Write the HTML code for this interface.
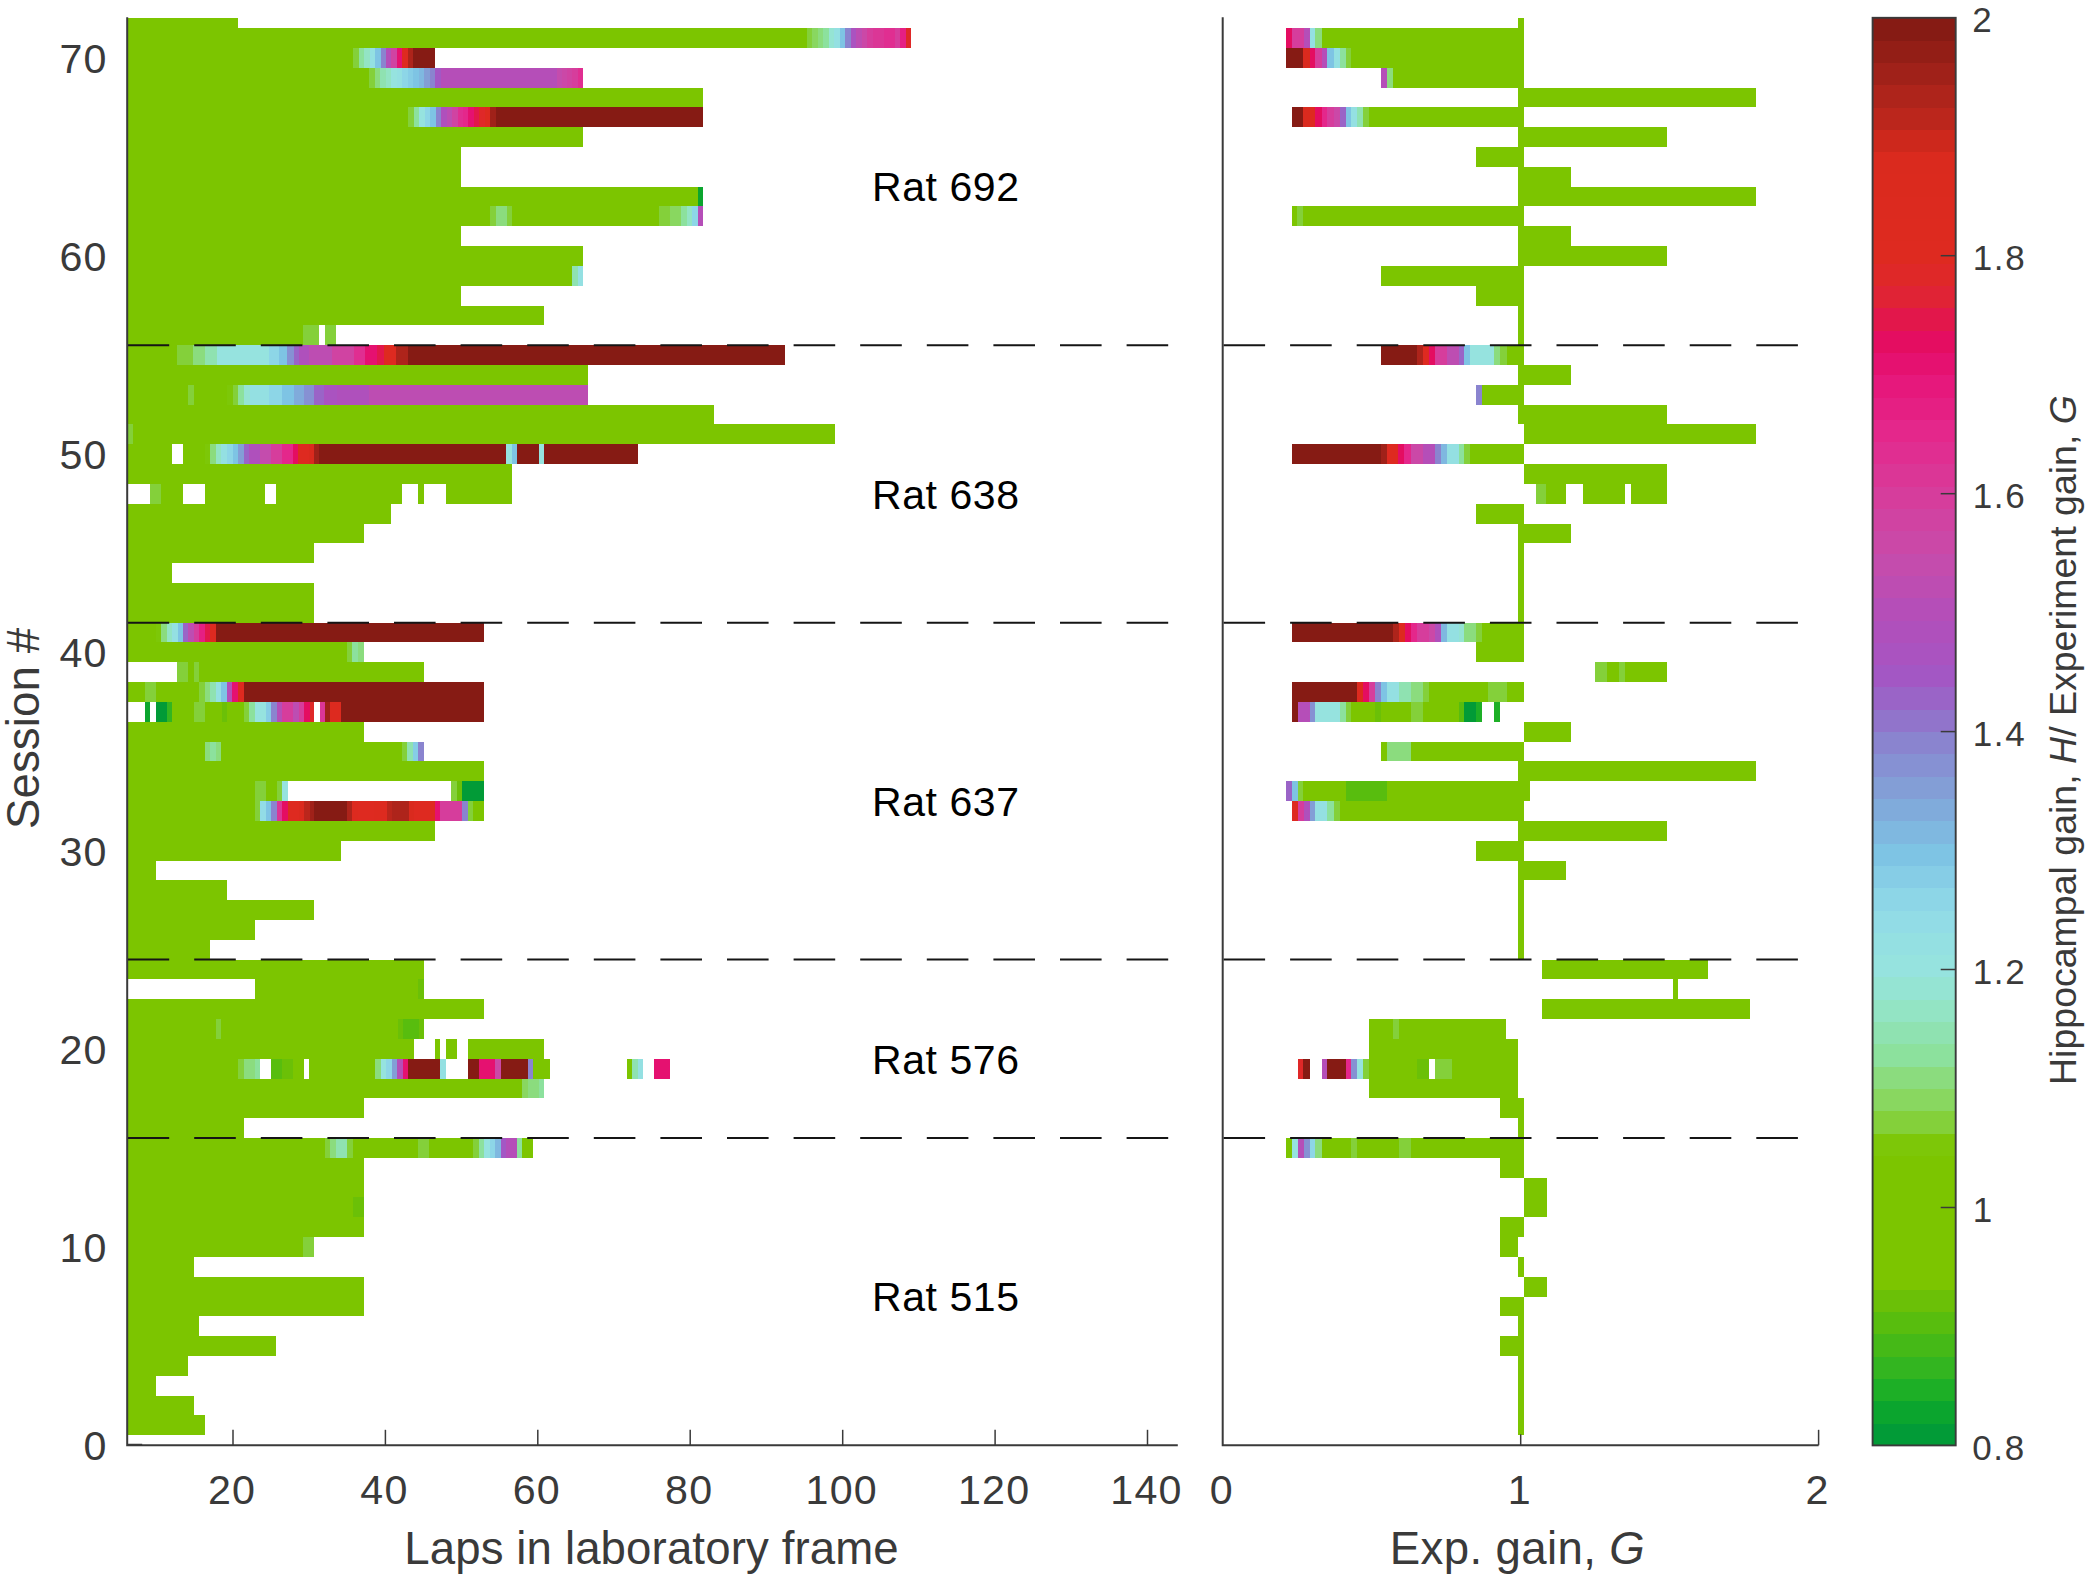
<!DOCTYPE html>
<html lang="en"><head><meta charset="utf-8"><title>Hippocampal gain per session</title>
<style>
html,body{margin:0;padding:0;background:#fff}
body{width:2088px;height:1576px;overflow:hidden}
svg{display:block}
text{font-family:"Liberation Sans",Arial,Helvetica,sans-serif;fill:#3a3a3a}
.tk{font-size:41.2px;letter-spacing:1.2px}
.ck{font-size:35px;letter-spacing:1.6px}
.rat{font-size:41px;fill:#000}
.al{font-size:45.6px}
.cl{font-size:37.5px}
</style></head><body>
<svg width="2088" height="1576" viewBox="0 0 2088 1576">
<rect width="2088" height="1576" fill="#fff"/>
<g shape-rendering="crispEdges">
<rect x="128.20" y="1415.47" width="76.50" height="19.82" fill="#7cc500"/>
<rect x="128.20" y="1395.65" width="65.60" height="19.82" fill="#7cc500"/>
<rect x="128.20" y="1375.83" width="28.00" height="19.82" fill="#7cc500"/>
<rect x="128.20" y="1356.01" width="59.60" height="19.82" fill="#7cc500"/>
<rect x="128.20" y="1336.19" width="148.00" height="19.82" fill="#7cc500"/>
<rect x="128.20" y="1316.37" width="70.80" height="19.82" fill="#7cc500"/>
<rect x="128.20" y="1296.55" width="235.90" height="19.82" fill="#7cc500"/>
<rect x="128.20" y="1276.73" width="235.90" height="19.82" fill="#7cc500"/>
<rect x="128.20" y="1256.91" width="65.80" height="19.82" fill="#7cc500"/>
<rect x="128.20" y="1237.09" width="174.80" height="19.82" fill="#7cc500"/>
<rect x="303.00" y="1237.09" width="5.40" height="19.82" fill="#84d03a"/>
<rect x="308.40" y="1237.09" width="5.40" height="19.82" fill="#84d03a"/>
<rect x="128.20" y="1217.27" width="235.90" height="19.82" fill="#7cc500"/>
<rect x="128.20" y="1197.45" width="224.80" height="19.82" fill="#7cc500"/>
<rect x="353.00" y="1197.45" width="11.10" height="19.82" fill="#6bc007"/>
<rect x="128.20" y="1177.63" width="235.90" height="19.82" fill="#7cc500"/>
<rect x="128.20" y="1157.81" width="235.90" height="19.82" fill="#7cc500"/>
<rect x="128.20" y="1137.99" width="196.53" height="19.82" fill="#7cc500"/>
<rect x="324.73" y="1137.99" width="5.48" height="19.82" fill="#84d03a"/>
<rect x="330.21" y="1137.99" width="5.48" height="19.82" fill="#8bdc7e"/>
<rect x="335.69" y="1137.99" width="10.96" height="19.82" fill="#8fe2b1"/>
<rect x="346.65" y="1137.99" width="6.23" height="19.82" fill="#84d03a"/>
<rect x="352.88" y="1137.99" width="65.26" height="19.82" fill="#7cc500"/>
<rect x="418.13" y="1137.99" width="10.96" height="19.82" fill="#84d03a"/>
<rect x="429.09" y="1137.99" width="44.08" height="19.82" fill="#7cc500"/>
<rect x="473.18" y="1137.99" width="5.48" height="19.82" fill="#84d03a"/>
<rect x="478.66" y="1137.99" width="5.48" height="19.82" fill="#8ce19d"/>
<rect x="484.13" y="1137.99" width="5.48" height="19.82" fill="#96e3df"/>
<rect x="489.61" y="1137.99" width="5.48" height="19.82" fill="#8dd6e7"/>
<rect x="495.09" y="1137.99" width="5.48" height="19.82" fill="#7fb8e0"/>
<rect x="500.57" y="1137.99" width="5.48" height="19.82" fill="#a357c4"/>
<rect x="506.05" y="1137.99" width="10.96" height="19.82" fill="#b54eb8"/>
<rect x="517.01" y="1137.99" width="5.48" height="19.82" fill="#8ce19d"/>
<rect x="522.49" y="1137.99" width="10.96" height="19.82" fill="#7cc500"/>
<rect x="128.20" y="1118.17" width="115.60" height="19.82" fill="#7cc500"/>
<rect x="128.20" y="1098.35" width="235.90" height="19.82" fill="#7cc500"/>
<rect x="128.20" y="1078.53" width="394.29" height="19.82" fill="#7cc500"/>
<rect x="522.49" y="1078.53" width="5.48" height="19.82" fill="#89d760"/>
<rect x="527.97" y="1078.53" width="5.48" height="19.82" fill="#8bdc7e"/>
<rect x="533.45" y="1078.53" width="5.48" height="19.82" fill="#8bdc7e"/>
<rect x="538.93" y="1078.53" width="5.23" height="19.82" fill="#8ce19d"/>
<rect x="128.20" y="1058.71" width="109.86" height="19.82" fill="#7cc500"/>
<rect x="238.06" y="1058.71" width="5.48" height="19.82" fill="#84d03a"/>
<rect x="243.54" y="1058.71" width="10.96" height="19.82" fill="#8bdc7e"/>
<rect x="254.50" y="1058.71" width="5.48" height="19.82" fill="#8ce19d"/>
<rect x="270.93" y="1058.71" width="10.96" height="19.82" fill="#58bd0e"/>
<rect x="281.89" y="1058.71" width="10.96" height="19.82" fill="#6bc007"/>
<rect x="292.85" y="1058.71" width="10.96" height="19.82" fill="#7cc500"/>
<rect x="308.79" y="1058.71" width="66.50" height="19.82" fill="#7cc500"/>
<rect x="375.29" y="1058.71" width="5.48" height="19.82" fill="#8bdc7e"/>
<rect x="380.77" y="1058.71" width="5.48" height="19.82" fill="#96e3df"/>
<rect x="386.25" y="1058.71" width="5.48" height="19.82" fill="#8dd6e7"/>
<rect x="391.73" y="1058.71" width="5.48" height="19.82" fill="#839ed6"/>
<rect x="397.21" y="1058.71" width="5.48" height="19.82" fill="#b54eb8"/>
<rect x="402.69" y="1058.71" width="5.48" height="19.82" fill="#e51170"/>
<rect x="408.17" y="1058.71" width="31.88" height="19.82" fill="#861b14"/>
<rect x="440.05" y="1058.71" width="5.73" height="19.82" fill="#94e0e2"/>
<rect x="467.95" y="1058.71" width="10.71" height="19.82" fill="#861b14"/>
<rect x="478.66" y="1058.71" width="16.44" height="19.82" fill="#e51170"/>
<rect x="495.09" y="1058.71" width="5.48" height="19.82" fill="#cb48a7"/>
<rect x="500.57" y="1058.71" width="27.40" height="19.82" fill="#861b14"/>
<rect x="527.97" y="1058.71" width="5.48" height="19.82" fill="#8a84cf"/>
<rect x="533.45" y="1058.71" width="16.19" height="19.82" fill="#7cc500"/>
<rect x="627.10" y="1058.71" width="4.98" height="19.82" fill="#7cc500"/>
<rect x="632.08" y="1058.71" width="5.48" height="19.82" fill="#8fe2b1"/>
<rect x="637.56" y="1058.71" width="5.48" height="19.82" fill="#94e0e2"/>
<rect x="654.00" y="1058.71" width="15.94" height="19.82" fill="#e51170"/>
<rect x="128.20" y="1038.89" width="285.70" height="19.82" fill="#7cc500"/>
<rect x="435.07" y="1038.89" width="4.98" height="19.82" fill="#7cc500"/>
<rect x="446.28" y="1038.89" width="10.46" height="19.82" fill="#7cc500"/>
<rect x="467.95" y="1038.89" width="76.21" height="19.82" fill="#7cc500"/>
<rect x="128.20" y="1019.07" width="87.94" height="19.82" fill="#7cc500"/>
<rect x="216.14" y="1019.07" width="4.98" height="19.82" fill="#84d03a"/>
<rect x="221.12" y="1019.07" width="176.59" height="19.82" fill="#7cc500"/>
<rect x="397.71" y="1019.07" width="5.48" height="19.82" fill="#6bc007"/>
<rect x="403.19" y="1019.07" width="15.69" height="19.82" fill="#58bd0e"/>
<rect x="418.88" y="1019.07" width="4.98" height="19.82" fill="#6bc007"/>
<rect x="128.20" y="999.25" width="355.90" height="19.82" fill="#7cc500"/>
<rect x="254.70" y="979.43" width="163.70" height="19.82" fill="#7cc500"/>
<rect x="418.40" y="979.43" width="5.50" height="19.82" fill="#6bc007"/>
<rect x="128.20" y="959.61" width="295.70" height="19.82" fill="#7cc500"/>
<rect x="128.20" y="939.79" width="81.50" height="19.82" fill="#7cc500"/>
<rect x="128.20" y="919.97" width="126.50" height="19.82" fill="#7cc500"/>
<rect x="128.20" y="900.15" width="185.60" height="19.82" fill="#7cc500"/>
<rect x="128.20" y="880.33" width="98.90" height="19.82" fill="#7cc500"/>
<rect x="128.20" y="860.51" width="27.40" height="19.82" fill="#7cc500"/>
<rect x="128.20" y="840.69" width="213.20" height="19.82" fill="#7cc500"/>
<rect x="128.20" y="820.87" width="306.60" height="19.82" fill="#7cc500"/>
<rect x="128.20" y="801.05" width="126.54" height="19.82" fill="#7cc500"/>
<rect x="254.74" y="801.05" width="5.48" height="19.82" fill="#84d03a"/>
<rect x="260.22" y="801.05" width="5.48" height="19.82" fill="#92dce6"/>
<rect x="265.70" y="801.05" width="5.48" height="19.82" fill="#7ec4e4"/>
<rect x="271.18" y="801.05" width="5.48" height="19.82" fill="#8a84cf"/>
<rect x="276.66" y="801.05" width="5.48" height="19.82" fill="#db3696"/>
<rect x="282.14" y="801.05" width="5.48" height="19.82" fill="#e40d61"/>
<rect x="287.62" y="801.05" width="10.96" height="19.82" fill="#de2a20"/>
<rect x="298.58" y="801.05" width="5.48" height="19.82" fill="#db2a1e"/>
<rect x="304.06" y="801.05" width="5.48" height="19.82" fill="#bb261c"/>
<rect x="309.54" y="801.05" width="4.48" height="19.82" fill="#a02119"/>
<rect x="314.02" y="801.05" width="32.88" height="19.82" fill="#861b14"/>
<rect x="346.90" y="801.05" width="5.48" height="19.82" fill="#ae241b"/>
<rect x="352.38" y="801.05" width="5.48" height="19.82" fill="#dd2a1f"/>
<rect x="357.86" y="801.05" width="16.19" height="19.82" fill="#de2a20"/>
<rect x="374.05" y="801.05" width="12.45" height="19.82" fill="#dd2a1f"/>
<rect x="386.50" y="801.05" width="5.48" height="19.82" fill="#bb261c"/>
<rect x="391.98" y="801.05" width="16.94" height="19.82" fill="#ae241b"/>
<rect x="408.92" y="801.05" width="4.98" height="19.82" fill="#da2a1e"/>
<rect x="413.90" y="801.05" width="20.92" height="19.82" fill="#de2a20"/>
<rect x="434.82" y="801.05" width="5.48" height="19.82" fill="#e51170"/>
<rect x="440.30" y="801.05" width="21.92" height="19.82" fill="#d63d9c"/>
<rect x="462.22" y="801.05" width="5.48" height="19.82" fill="#8a84cf"/>
<rect x="467.70" y="801.05" width="5.48" height="19.82" fill="#84d03a"/>
<rect x="473.18" y="801.05" width="10.96" height="19.82" fill="#7cc500"/>
<rect x="128.20" y="781.23" width="126.54" height="19.82" fill="#7cc500"/>
<rect x="254.74" y="781.23" width="5.48" height="19.82" fill="#84d03a"/>
<rect x="260.22" y="781.23" width="5.48" height="19.82" fill="#84d03a"/>
<rect x="265.70" y="781.23" width="10.96" height="19.82" fill="#7cc500"/>
<rect x="276.66" y="781.23" width="5.48" height="19.82" fill="#84d03a"/>
<rect x="282.14" y="781.23" width="5.48" height="19.82" fill="#96e3df"/>
<rect x="451.26" y="781.23" width="5.48" height="19.82" fill="#84d03a"/>
<rect x="456.74" y="781.23" width="5.48" height="19.82" fill="#6bc007"/>
<rect x="462.22" y="781.23" width="21.92" height="19.82" fill="#029b37"/>
<rect x="128.20" y="761.41" width="355.90" height="19.82" fill="#7cc500"/>
<rect x="128.20" y="741.59" width="76.73" height="19.82" fill="#7cc500"/>
<rect x="204.93" y="741.59" width="5.48" height="19.82" fill="#8bdc7e"/>
<rect x="210.41" y="741.59" width="5.48" height="19.82" fill="#8ce19d"/>
<rect x="215.89" y="741.59" width="5.48" height="19.82" fill="#8bdc7e"/>
<rect x="221.37" y="741.59" width="180.57" height="19.82" fill="#7cc500"/>
<rect x="401.94" y="741.59" width="5.48" height="19.82" fill="#84d03a"/>
<rect x="407.42" y="741.59" width="5.48" height="19.82" fill="#8fe2b1"/>
<rect x="412.90" y="741.59" width="5.48" height="19.82" fill="#86cde6"/>
<rect x="418.38" y="741.59" width="5.48" height="19.82" fill="#8a84cf"/>
<rect x="128.20" y="721.77" width="235.90" height="19.82" fill="#7cc500"/>
<rect x="144.91" y="701.95" width="4.98" height="19.82" fill="#0ba52e"/>
<rect x="155.62" y="701.95" width="10.96" height="19.82" fill="#029b37"/>
<rect x="166.58" y="701.95" width="5.48" height="19.82" fill="#33b520"/>
<rect x="172.05" y="701.95" width="21.92" height="19.82" fill="#7cc500"/>
<rect x="193.97" y="701.95" width="10.96" height="19.82" fill="#84d03a"/>
<rect x="204.93" y="701.95" width="16.69" height="19.82" fill="#7cc500"/>
<rect x="221.62" y="701.95" width="5.48" height="19.82" fill="#6bc007"/>
<rect x="227.10" y="701.95" width="16.69" height="19.82" fill="#7cc500"/>
<rect x="243.79" y="701.95" width="5.48" height="19.82" fill="#84d03a"/>
<rect x="249.27" y="701.95" width="5.48" height="19.82" fill="#8ce19d"/>
<rect x="254.74" y="701.95" width="10.96" height="19.82" fill="#96e3df"/>
<rect x="265.70" y="701.95" width="5.48" height="19.82" fill="#86cde6"/>
<rect x="271.18" y="701.95" width="5.48" height="19.82" fill="#8a84cf"/>
<rect x="276.66" y="701.95" width="5.48" height="19.82" fill="#b54eb8"/>
<rect x="282.14" y="701.95" width="10.96" height="19.82" fill="#d63d9c"/>
<rect x="293.10" y="701.95" width="5.48" height="19.82" fill="#bd4db2"/>
<rect x="298.58" y="701.95" width="5.48" height="19.82" fill="#d63d9c"/>
<rect x="304.06" y="701.95" width="5.48" height="19.82" fill="#e40d61"/>
<rect x="309.54" y="701.95" width="4.48" height="19.82" fill="#df2828"/>
<rect x="319.50" y="701.95" width="5.48" height="19.82" fill="#db3696"/>
<rect x="324.98" y="701.95" width="5.48" height="19.82" fill="#a02119"/>
<rect x="330.46" y="701.95" width="10.96" height="19.82" fill="#dd2a1f"/>
<rect x="341.42" y="701.95" width="142.71" height="19.82" fill="#861b14"/>
<rect x="128.20" y="682.13" width="16.71" height="19.82" fill="#7cc500"/>
<rect x="144.91" y="682.13" width="10.71" height="19.82" fill="#84d03a"/>
<rect x="155.62" y="682.13" width="43.84" height="19.82" fill="#7cc500"/>
<rect x="199.45" y="682.13" width="5.48" height="19.82" fill="#84d03a"/>
<rect x="204.93" y="682.13" width="5.48" height="19.82" fill="#8bdc7e"/>
<rect x="210.41" y="682.13" width="5.48" height="19.82" fill="#8fe2b1"/>
<rect x="215.89" y="682.13" width="5.48" height="19.82" fill="#94e0e2"/>
<rect x="221.37" y="682.13" width="5.48" height="19.82" fill="#7ec4e4"/>
<rect x="226.85" y="682.13" width="5.48" height="19.82" fill="#b54eb8"/>
<rect x="232.33" y="682.13" width="5.48" height="19.82" fill="#e51170"/>
<rect x="237.81" y="682.13" width="5.98" height="19.82" fill="#de2a20"/>
<rect x="243.79" y="682.13" width="240.35" height="19.82" fill="#861b14"/>
<rect x="177.29" y="662.31" width="5.48" height="19.82" fill="#84d03a"/>
<rect x="182.76" y="662.31" width="5.48" height="19.82" fill="#84d03a"/>
<rect x="188.24" y="662.31" width="5.48" height="19.82" fill="#7cc500"/>
<rect x="193.72" y="662.31" width="5.48" height="19.82" fill="#84d03a"/>
<rect x="199.20" y="662.31" width="224.66" height="19.82" fill="#7cc500"/>
<rect x="128.20" y="642.49" width="218.45" height="19.82" fill="#7cc500"/>
<rect x="346.65" y="642.49" width="5.48" height="19.82" fill="#84d03a"/>
<rect x="352.13" y="642.49" width="5.98" height="19.82" fill="#8ce19d"/>
<rect x="358.11" y="642.49" width="5.98" height="19.82" fill="#8bdc7e"/>
<rect x="128.20" y="622.67" width="27.42" height="19.82" fill="#7cc500"/>
<rect x="155.62" y="622.67" width="5.48" height="19.82" fill="#7dc708"/>
<rect x="161.10" y="622.67" width="5.48" height="19.82" fill="#8bdc7e"/>
<rect x="166.58" y="622.67" width="5.48" height="19.82" fill="#93e4c4"/>
<rect x="172.05" y="622.67" width="5.48" height="19.82" fill="#94e0e2"/>
<rect x="177.53" y="622.67" width="5.48" height="19.82" fill="#7ec4e4"/>
<rect x="183.01" y="622.67" width="5.48" height="19.82" fill="#9a64c7"/>
<rect x="188.49" y="622.67" width="5.48" height="19.82" fill="#bd4db2"/>
<rect x="193.97" y="622.67" width="5.48" height="19.82" fill="#d63d9c"/>
<rect x="199.45" y="622.67" width="5.48" height="19.82" fill="#e51f83"/>
<rect x="204.93" y="622.67" width="5.48" height="19.82" fill="#e2174b"/>
<rect x="210.41" y="622.67" width="5.48" height="19.82" fill="#de2a20"/>
<rect x="215.89" y="622.67" width="268.24" height="19.82" fill="#861b14"/>
<rect x="128.20" y="602.85" width="185.60" height="19.82" fill="#7cc500"/>
<rect x="128.20" y="583.03" width="185.60" height="19.82" fill="#7cc500"/>
<rect x="128.20" y="563.21" width="43.60" height="19.82" fill="#7cc500"/>
<rect x="128.20" y="543.39" width="185.60" height="19.82" fill="#7cc500"/>
<rect x="128.20" y="523.57" width="235.90" height="19.82" fill="#7cc500"/>
<rect x="128.20" y="503.75" width="262.80" height="19.82" fill="#7cc500"/>
<rect x="149.89" y="483.93" width="11.21" height="19.82" fill="#84d03a"/>
<rect x="161.10" y="483.93" width="21.92" height="19.82" fill="#7cc500"/>
<rect x="204.68" y="483.93" width="60.52" height="19.82" fill="#7cc500"/>
<rect x="276.16" y="483.93" width="125.78" height="19.82" fill="#7cc500"/>
<rect x="418.13" y="483.93" width="5.73" height="19.82" fill="#7cc500"/>
<rect x="446.28" y="483.93" width="65.50" height="19.82" fill="#7cc500"/>
<rect x="128.20" y="464.11" width="383.60" height="19.82" fill="#7cc500"/>
<rect x="128.20" y="444.29" width="43.61" height="19.82" fill="#7cc500"/>
<rect x="183.01" y="444.29" width="21.67" height="19.82" fill="#7cc500"/>
<rect x="204.68" y="444.29" width="5.48" height="19.82" fill="#7dc708"/>
<rect x="210.16" y="444.29" width="5.48" height="19.82" fill="#8bdc7e"/>
<rect x="215.64" y="444.29" width="5.48" height="19.82" fill="#93e4c4"/>
<rect x="221.12" y="444.29" width="5.98" height="19.82" fill="#94e0e2"/>
<rect x="227.10" y="444.29" width="5.48" height="19.82" fill="#8dd6e7"/>
<rect x="232.58" y="444.29" width="5.48" height="19.82" fill="#7ec4e4"/>
<rect x="238.06" y="444.29" width="5.48" height="19.82" fill="#839ed6"/>
<rect x="243.54" y="444.29" width="5.48" height="19.82" fill="#9a64c7"/>
<rect x="249.02" y="444.29" width="10.96" height="19.82" fill="#af50bc"/>
<rect x="259.98" y="444.29" width="10.96" height="19.82" fill="#c44cad"/>
<rect x="270.93" y="444.29" width="10.96" height="19.82" fill="#d63d9c"/>
<rect x="281.89" y="444.29" width="10.96" height="19.82" fill="#e4278b"/>
<rect x="292.85" y="444.29" width="5.48" height="19.82" fill="#e40d61"/>
<rect x="298.33" y="444.29" width="10.96" height="19.82" fill="#de2a20"/>
<rect x="309.29" y="444.29" width="4.98" height="19.82" fill="#da2a1e"/>
<rect x="314.27" y="444.29" width="4.98" height="19.82" fill="#a02119"/>
<rect x="319.25" y="444.29" width="186.80" height="19.82" fill="#861b14"/>
<rect x="506.05" y="444.29" width="6.23" height="19.82" fill="#96e3df"/>
<rect x="512.28" y="444.29" width="4.98" height="19.82" fill="#7ec4e4"/>
<rect x="517.26" y="444.29" width="21.67" height="19.82" fill="#861b14"/>
<rect x="538.93" y="444.29" width="5.23" height="19.82" fill="#96e3df"/>
<rect x="544.16" y="444.29" width="93.90" height="19.82" fill="#861b14"/>
<rect x="128.20" y="424.47" width="4.30" height="19.82" fill="#84d03a"/>
<rect x="132.50" y="424.47" width="702.20" height="19.82" fill="#7cc500"/>
<rect x="128.20" y="404.65" width="585.70" height="19.82" fill="#7cc500"/>
<rect x="128.20" y="384.83" width="60.29" height="19.82" fill="#7cc500"/>
<rect x="188.49" y="384.83" width="5.48" height="19.82" fill="#84d03a"/>
<rect x="193.97" y="384.83" width="33.13" height="19.82" fill="#7cc500"/>
<rect x="227.10" y="384.83" width="5.48" height="19.82" fill="#7dc708"/>
<rect x="232.58" y="384.83" width="5.48" height="19.82" fill="#84d03a"/>
<rect x="238.06" y="384.83" width="5.48" height="19.82" fill="#8ce19d"/>
<rect x="243.54" y="384.83" width="5.98" height="19.82" fill="#95e4d3"/>
<rect x="249.51" y="384.83" width="19.93" height="19.82" fill="#94e0e2"/>
<rect x="269.44" y="384.83" width="12.45" height="19.82" fill="#8dd6e7"/>
<rect x="281.89" y="384.83" width="12.45" height="19.82" fill="#7ec4e4"/>
<rect x="294.35" y="384.83" width="9.96" height="19.82" fill="#80abdb"/>
<rect x="304.31" y="384.83" width="9.96" height="19.82" fill="#8691d3"/>
<rect x="314.27" y="384.83" width="9.96" height="19.82" fill="#9a64c7"/>
<rect x="324.23" y="384.83" width="12.45" height="19.82" fill="#aa53c0"/>
<rect x="336.69" y="384.83" width="32.38" height="19.82" fill="#af50bc"/>
<rect x="369.07" y="384.83" width="218.68" height="19.82" fill="#bd4db2"/>
<rect x="128.20" y="365.01" width="459.50" height="19.82" fill="#7cc500"/>
<rect x="128.20" y="345.19" width="48.59" height="19.82" fill="#7cc500"/>
<rect x="176.79" y="345.19" width="16.69" height="19.82" fill="#84d03a"/>
<rect x="193.47" y="345.19" width="11.21" height="19.82" fill="#8bdc7e"/>
<rect x="204.68" y="345.19" width="12.45" height="19.82" fill="#8fe2b1"/>
<rect x="217.14" y="345.19" width="52.30" height="19.82" fill="#96e3df"/>
<rect x="269.44" y="345.19" width="9.96" height="19.82" fill="#8dd6e7"/>
<rect x="279.40" y="345.19" width="7.47" height="19.82" fill="#7ec4e4"/>
<rect x="286.87" y="345.19" width="7.47" height="19.82" fill="#8691d3"/>
<rect x="294.35" y="345.19" width="4.98" height="19.82" fill="#9a64c7"/>
<rect x="299.33" y="345.19" width="9.96" height="19.82" fill="#af50bc"/>
<rect x="309.29" y="345.19" width="22.42" height="19.82" fill="#bd4db2"/>
<rect x="331.71" y="345.19" width="22.42" height="19.82" fill="#d043a2"/>
<rect x="354.12" y="345.19" width="11.21" height="19.82" fill="#e02e91"/>
<rect x="365.33" y="345.19" width="11.21" height="19.82" fill="#e51170"/>
<rect x="376.54" y="345.19" width="7.47" height="19.82" fill="#e2174b"/>
<rect x="384.01" y="345.19" width="12.45" height="19.82" fill="#de2a20"/>
<rect x="396.46" y="345.19" width="11.21" height="19.82" fill="#ae241b"/>
<rect x="407.67" y="345.19" width="377.23" height="19.82" fill="#861b14"/>
<rect x="128.20" y="325.37" width="174.80" height="19.82" fill="#7cc500"/>
<rect x="303.00" y="325.37" width="16.20" height="19.82" fill="#84d03a"/>
<rect x="324.70" y="325.37" width="11.00" height="19.82" fill="#84d03a"/>
<rect x="128.20" y="305.55" width="415.70" height="19.82" fill="#7cc500"/>
<rect x="128.20" y="285.73" width="333.20" height="19.82" fill="#7cc500"/>
<rect x="128.20" y="265.91" width="443.80" height="19.82" fill="#7cc500"/>
<rect x="572.00" y="265.91" width="5.50" height="19.82" fill="#8fe2b1"/>
<rect x="577.50" y="265.91" width="5.50" height="19.82" fill="#94e0e2"/>
<rect x="128.20" y="246.09" width="454.70" height="19.82" fill="#7cc500"/>
<rect x="128.20" y="226.27" width="333.20" height="19.82" fill="#7cc500"/>
<rect x="128.20" y="206.45" width="362.10" height="19.82" fill="#7cc500"/>
<rect x="490.30" y="206.45" width="5.48" height="19.82" fill="#84d03a"/>
<rect x="495.78" y="206.45" width="5.48" height="19.82" fill="#8bdc7e"/>
<rect x="501.26" y="206.45" width="5.48" height="19.82" fill="#8bdc7e"/>
<rect x="506.74" y="206.45" width="5.48" height="19.82" fill="#84d03a"/>
<rect x="512.22" y="206.45" width="147.08" height="19.82" fill="#7cc500"/>
<rect x="659.30" y="206.45" width="5.46" height="19.82" fill="#84d03a"/>
<rect x="664.76" y="206.45" width="5.46" height="19.82" fill="#84d03a"/>
<rect x="670.22" y="206.45" width="5.46" height="19.82" fill="#89d760"/>
<rect x="675.68" y="206.45" width="5.46" height="19.82" fill="#89d760"/>
<rect x="681.14" y="206.45" width="5.46" height="19.82" fill="#8ce19d"/>
<rect x="686.60" y="206.45" width="5.46" height="19.82" fill="#93e4c4"/>
<rect x="692.06" y="206.45" width="5.46" height="19.82" fill="#8dd6e7"/>
<rect x="697.52" y="206.45" width="5.46" height="19.82" fill="#b54eb8"/>
<rect x="128.20" y="186.63" width="569.40" height="19.82" fill="#7cc500"/>
<rect x="697.60" y="186.63" width="5.40" height="19.82" fill="#0ba52e"/>
<rect x="128.20" y="166.81" width="333.20" height="19.82" fill="#7cc500"/>
<rect x="128.20" y="146.99" width="333.20" height="19.82" fill="#7cc500"/>
<rect x="128.20" y="127.17" width="454.70" height="19.82" fill="#7cc500"/>
<rect x="128.20" y="107.35" width="280.00" height="19.82" fill="#7cc500"/>
<rect x="408.20" y="107.35" width="5.48" height="19.82" fill="#84d03a"/>
<rect x="413.68" y="107.35" width="5.48" height="19.82" fill="#8ce19d"/>
<rect x="419.16" y="107.35" width="5.48" height="19.82" fill="#96e3df"/>
<rect x="424.64" y="107.35" width="5.48" height="19.82" fill="#8dd6e7"/>
<rect x="430.12" y="107.35" width="5.48" height="19.82" fill="#7ec4e4"/>
<rect x="435.60" y="107.35" width="5.48" height="19.82" fill="#8a84cf"/>
<rect x="441.08" y="107.35" width="5.48" height="19.82" fill="#af50bc"/>
<rect x="446.56" y="107.35" width="5.48" height="19.82" fill="#bd4db2"/>
<rect x="452.04" y="107.35" width="5.48" height="19.82" fill="#d043a2"/>
<rect x="457.52" y="107.35" width="5.48" height="19.82" fill="#e02e91"/>
<rect x="463.00" y="107.35" width="5.48" height="19.82" fill="#e4278b"/>
<rect x="468.48" y="107.35" width="5.48" height="19.82" fill="#e51170"/>
<rect x="473.96" y="107.35" width="5.48" height="19.82" fill="#e2174b"/>
<rect x="479.44" y="107.35" width="5.48" height="19.82" fill="#df2828"/>
<rect x="484.92" y="107.35" width="5.48" height="19.82" fill="#dd2a1f"/>
<rect x="490.40" y="107.35" width="5.48" height="19.82" fill="#a02119"/>
<rect x="495.88" y="107.35" width="207.12" height="19.82" fill="#861b14"/>
<rect x="128.20" y="87.53" width="574.80" height="19.82" fill="#7cc500"/>
<rect x="128.20" y="67.71" width="241.10" height="19.82" fill="#7cc500"/>
<rect x="369.30" y="67.71" width="5.48" height="19.82" fill="#84d03a"/>
<rect x="374.78" y="67.71" width="5.48" height="19.82" fill="#8bdc7e"/>
<rect x="380.26" y="67.71" width="5.48" height="19.82" fill="#8fe2b1"/>
<rect x="385.74" y="67.71" width="5.48" height="19.82" fill="#93e4c4"/>
<rect x="391.22" y="67.71" width="5.48" height="19.82" fill="#96e3df"/>
<rect x="396.70" y="67.71" width="5.48" height="19.82" fill="#94e0e2"/>
<rect x="402.18" y="67.71" width="5.48" height="19.82" fill="#8dd6e7"/>
<rect x="407.66" y="67.71" width="5.48" height="19.82" fill="#86cde6"/>
<rect x="413.14" y="67.71" width="5.48" height="19.82" fill="#7ec4e4"/>
<rect x="418.62" y="67.71" width="5.48" height="19.82" fill="#7fb8e0"/>
<rect x="424.10" y="67.71" width="5.48" height="19.82" fill="#839ed6"/>
<rect x="429.58" y="67.71" width="5.48" height="19.82" fill="#8a84cf"/>
<rect x="435.06" y="67.71" width="5.48" height="19.82" fill="#a357c4"/>
<rect x="440.54" y="67.71" width="110.96" height="19.82" fill="#b54eb8"/>
<rect x="551.50" y="67.71" width="5.23" height="19.82" fill="#b54eb8"/>
<rect x="556.73" y="67.71" width="5.23" height="19.82" fill="#c44cad"/>
<rect x="561.97" y="67.71" width="5.23" height="19.82" fill="#cb48a7"/>
<rect x="567.20" y="67.71" width="5.23" height="19.82" fill="#d043a2"/>
<rect x="572.43" y="67.71" width="5.23" height="19.82" fill="#d63d9c"/>
<rect x="577.67" y="67.71" width="5.23" height="19.82" fill="#e02e91"/>
<rect x="128.20" y="47.89" width="224.90" height="19.82" fill="#7cc500"/>
<rect x="353.10" y="47.89" width="5.48" height="19.82" fill="#84d03a"/>
<rect x="358.58" y="47.89" width="5.48" height="19.82" fill="#8ce19d"/>
<rect x="364.06" y="47.89" width="5.48" height="19.82" fill="#93e4c4"/>
<rect x="369.54" y="47.89" width="5.48" height="19.82" fill="#94e0e2"/>
<rect x="375.02" y="47.89" width="5.48" height="19.82" fill="#7ec4e4"/>
<rect x="380.50" y="47.89" width="5.48" height="19.82" fill="#8a84cf"/>
<rect x="385.98" y="47.89" width="5.48" height="19.82" fill="#b54eb8"/>
<rect x="391.46" y="47.89" width="5.48" height="19.82" fill="#d043a2"/>
<rect x="396.94" y="47.89" width="5.48" height="19.82" fill="#e51170"/>
<rect x="402.42" y="47.89" width="5.48" height="19.82" fill="#de2a20"/>
<rect x="407.90" y="47.89" width="5.48" height="19.82" fill="#ae241b"/>
<rect x="413.38" y="47.89" width="21.22" height="19.82" fill="#861b14"/>
<rect x="128.20" y="28.07" width="678.40" height="19.82" fill="#7cc500"/>
<rect x="806.60" y="28.07" width="5.50" height="19.82" fill="#84d03a"/>
<rect x="812.11" y="28.07" width="5.50" height="19.82" fill="#89d760"/>
<rect x="817.61" y="28.07" width="5.50" height="19.82" fill="#8bdc7e"/>
<rect x="823.12" y="28.07" width="5.50" height="19.82" fill="#8ce19d"/>
<rect x="828.62" y="28.07" width="5.50" height="19.82" fill="#95e4d3"/>
<rect x="834.12" y="28.07" width="5.50" height="19.82" fill="#94e0e2"/>
<rect x="839.63" y="28.07" width="5.50" height="19.82" fill="#7ec4e4"/>
<rect x="845.13" y="28.07" width="5.50" height="19.82" fill="#8a84cf"/>
<rect x="850.64" y="28.07" width="5.50" height="19.82" fill="#aa53c0"/>
<rect x="856.14" y="28.07" width="5.50" height="19.82" fill="#bd4db2"/>
<rect x="861.65" y="28.07" width="5.50" height="19.82" fill="#cb48a7"/>
<rect x="867.15" y="28.07" width="5.51" height="19.82" fill="#d63d9c"/>
<rect x="872.66" y="28.07" width="5.50" height="19.82" fill="#db3696"/>
<rect x="878.16" y="28.07" width="5.51" height="19.82" fill="#db3696"/>
<rect x="883.67" y="28.07" width="5.50" height="19.82" fill="#e02e91"/>
<rect x="889.18" y="28.07" width="5.50" height="19.82" fill="#e02e91"/>
<rect x="894.68" y="28.07" width="5.50" height="19.82" fill="#d63d9c"/>
<rect x="900.19" y="28.07" width="5.50" height="19.82" fill="#e51f83"/>
<rect x="905.69" y="28.07" width="5.50" height="19.82" fill="#df2828"/>
<rect x="128.20" y="18.20" width="109.80" height="9.87" fill="#7cc500"/>
<rect x="1518.28" y="1415.47" width="5.73" height="19.82" fill="#7cc500"/>
<rect x="1518.28" y="1395.65" width="5.73" height="19.82" fill="#7cc500"/>
<rect x="1518.28" y="1375.83" width="5.73" height="19.82" fill="#7cc500"/>
<rect x="1518.28" y="1356.01" width="5.73" height="19.82" fill="#7cc500"/>
<rect x="1500.35" y="1336.19" width="23.66" height="19.82" fill="#7cc500"/>
<rect x="1518.28" y="1316.37" width="5.73" height="19.82" fill="#7cc500"/>
<rect x="1500.35" y="1296.55" width="23.66" height="19.82" fill="#7cc500"/>
<rect x="1524.01" y="1276.73" width="22.91" height="19.82" fill="#7cc500"/>
<rect x="1518.28" y="1256.91" width="5.73" height="19.82" fill="#7cc500"/>
<rect x="1500.35" y="1237.09" width="17.93" height="19.82" fill="#7cc500"/>
<rect x="1500.35" y="1217.27" width="23.66" height="19.82" fill="#7cc500"/>
<rect x="1524.01" y="1197.45" width="22.91" height="19.82" fill="#7cc500"/>
<rect x="1524.01" y="1177.63" width="22.91" height="19.82" fill="#7cc500"/>
<rect x="1500.35" y="1157.81" width="23.66" height="19.82" fill="#7cc500"/>
<rect x="1286.15" y="1137.99" width="5.98" height="19.82" fill="#7cc500"/>
<rect x="1292.13" y="1137.99" width="5.73" height="19.82" fill="#96e3df"/>
<rect x="1297.86" y="1137.99" width="5.73" height="19.82" fill="#b54eb8"/>
<rect x="1303.59" y="1137.99" width="6.23" height="19.82" fill="#8691d3"/>
<rect x="1309.81" y="1137.99" width="5.48" height="19.82" fill="#8dd6e7"/>
<rect x="1315.29" y="1137.99" width="6.48" height="19.82" fill="#8bdc7e"/>
<rect x="1321.77" y="1137.99" width="29.39" height="19.82" fill="#7cc500"/>
<rect x="1351.16" y="1137.99" width="5.98" height="19.82" fill="#84d03a"/>
<rect x="1357.14" y="1137.99" width="41.84" height="19.82" fill="#7cc500"/>
<rect x="1398.98" y="1137.99" width="11.96" height="19.82" fill="#84d03a"/>
<rect x="1410.93" y="1137.99" width="113.08" height="19.82" fill="#7cc500"/>
<rect x="1518.28" y="1118.17" width="5.73" height="19.82" fill="#7cc500"/>
<rect x="1500.35" y="1098.35" width="23.66" height="19.82" fill="#7cc500"/>
<rect x="1368.84" y="1078.53" width="148.94" height="19.82" fill="#7cc500"/>
<rect x="1297.86" y="1058.71" width="4.98" height="19.82" fill="#df2828"/>
<rect x="1302.84" y="1058.71" width="6.97" height="19.82" fill="#861b14"/>
<rect x="1321.77" y="1058.71" width="5.48" height="19.82" fill="#b54eb8"/>
<rect x="1327.25" y="1058.71" width="18.68" height="19.82" fill="#861b14"/>
<rect x="1345.93" y="1058.71" width="5.23" height="19.82" fill="#e4278b"/>
<rect x="1351.16" y="1058.71" width="5.98" height="19.82" fill="#8691d3"/>
<rect x="1357.14" y="1058.71" width="5.73" height="19.82" fill="#96e3df"/>
<rect x="1362.86" y="1058.71" width="5.98" height="19.82" fill="#84d03a"/>
<rect x="1368.84" y="1058.71" width="48.07" height="19.82" fill="#7cc500"/>
<rect x="1416.91" y="1058.71" width="12.45" height="19.82" fill="#6bc007"/>
<rect x="1435.09" y="1058.71" width="16.69" height="19.82" fill="#84d03a"/>
<rect x="1451.78" y="1058.71" width="66.00" height="19.82" fill="#7cc500"/>
<rect x="1368.84" y="1038.89" width="148.94" height="19.82" fill="#7cc500"/>
<rect x="1368.84" y="1019.07" width="24.41" height="19.82" fill="#7cc500"/>
<rect x="1393.25" y="1019.07" width="5.73" height="19.82" fill="#84d03a"/>
<rect x="1398.98" y="1019.07" width="107.10" height="19.82" fill="#7cc500"/>
<rect x="1541.94" y="999.25" width="207.97" height="19.82" fill="#7cc500"/>
<rect x="1672.95" y="979.43" width="5.48" height="19.82" fill="#7cc500"/>
<rect x="1541.94" y="959.61" width="165.88" height="19.82" fill="#7cc500"/>
<rect x="1518.28" y="939.79" width="5.73" height="19.82" fill="#7cc500"/>
<rect x="1518.28" y="919.97" width="5.73" height="19.82" fill="#7cc500"/>
<rect x="1518.28" y="900.15" width="5.73" height="19.82" fill="#7cc500"/>
<rect x="1518.28" y="880.33" width="5.73" height="19.82" fill="#7cc500"/>
<rect x="1518.28" y="860.51" width="47.57" height="19.82" fill="#7cc500"/>
<rect x="1476.19" y="840.69" width="47.82" height="19.82" fill="#7cc500"/>
<rect x="1518.28" y="820.87" width="148.69" height="19.82" fill="#7cc500"/>
<rect x="1292.13" y="801.05" width="5.73" height="19.82" fill="#de2a20"/>
<rect x="1297.86" y="801.05" width="5.73" height="19.82" fill="#d63d9c"/>
<rect x="1303.59" y="801.05" width="6.23" height="19.82" fill="#af50bc"/>
<rect x="1309.81" y="801.05" width="5.48" height="19.82" fill="#839ed6"/>
<rect x="1315.29" y="801.05" width="11.96" height="19.82" fill="#94e0e2"/>
<rect x="1327.25" y="801.05" width="6.48" height="19.82" fill="#8ce19d"/>
<rect x="1333.72" y="801.05" width="5.98" height="19.82" fill="#84d03a"/>
<rect x="1339.70" y="801.05" width="184.31" height="19.82" fill="#7cc500"/>
<rect x="1286.15" y="781.23" width="5.98" height="19.82" fill="#9a64c7"/>
<rect x="1292.13" y="781.23" width="5.73" height="19.82" fill="#7ec4e4"/>
<rect x="1297.86" y="781.23" width="4.98" height="19.82" fill="#84d03a"/>
<rect x="1302.84" y="781.23" width="43.09" height="19.82" fill="#7cc500"/>
<rect x="1345.93" y="781.23" width="41.10" height="19.82" fill="#58bd0e"/>
<rect x="1387.02" y="781.23" width="142.71" height="19.82" fill="#7cc500"/>
<rect x="1518.28" y="761.41" width="237.36" height="19.82" fill="#7cc500"/>
<rect x="1381.30" y="741.59" width="5.73" height="19.82" fill="#7cc500"/>
<rect x="1387.02" y="741.59" width="23.91" height="19.82" fill="#8bdc7e"/>
<rect x="1410.93" y="741.59" width="113.08" height="19.82" fill="#7cc500"/>
<rect x="1524.01" y="721.77" width="46.82" height="19.82" fill="#7cc500"/>
<rect x="1292.13" y="701.95" width="5.73" height="19.82" fill="#861b14"/>
<rect x="1297.86" y="701.95" width="11.96" height="19.82" fill="#b54eb8"/>
<rect x="1309.81" y="701.95" width="5.48" height="19.82" fill="#8691d3"/>
<rect x="1315.29" y="701.95" width="24.41" height="19.82" fill="#96e3df"/>
<rect x="1339.70" y="701.95" width="5.98" height="19.82" fill="#8ce19d"/>
<rect x="1345.68" y="701.95" width="5.48" height="19.82" fill="#84d03a"/>
<rect x="1351.16" y="701.95" width="23.91" height="19.82" fill="#7cc500"/>
<rect x="1375.07" y="701.95" width="5.98" height="19.82" fill="#6bc007"/>
<rect x="1381.05" y="701.95" width="29.89" height="19.82" fill="#7cc500"/>
<rect x="1410.93" y="701.95" width="12.20" height="19.82" fill="#84d03a"/>
<rect x="1423.14" y="701.95" width="35.37" height="19.82" fill="#7cc500"/>
<rect x="1458.51" y="701.95" width="5.73" height="19.82" fill="#58bd0e"/>
<rect x="1464.23" y="701.95" width="11.96" height="19.82" fill="#029b37"/>
<rect x="1476.19" y="701.95" width="5.48" height="19.82" fill="#1daf26"/>
<rect x="1494.12" y="701.95" width="5.73" height="19.82" fill="#1daf26"/>
<rect x="1292.13" y="682.13" width="65.01" height="19.82" fill="#861b14"/>
<rect x="1357.14" y="682.13" width="5.73" height="19.82" fill="#dd2a1f"/>
<rect x="1362.86" y="682.13" width="5.98" height="19.82" fill="#e40d61"/>
<rect x="1368.84" y="682.13" width="6.23" height="19.82" fill="#d63d9c"/>
<rect x="1375.07" y="682.13" width="5.98" height="19.82" fill="#8a84cf"/>
<rect x="1381.05" y="682.13" width="5.98" height="19.82" fill="#7ec4e4"/>
<rect x="1387.02" y="682.13" width="11.96" height="19.82" fill="#94e0e2"/>
<rect x="1398.98" y="682.13" width="11.96" height="19.82" fill="#8fe2b1"/>
<rect x="1410.93" y="682.13" width="12.20" height="19.82" fill="#8bdc7e"/>
<rect x="1423.14" y="682.13" width="6.23" height="19.82" fill="#84d03a"/>
<rect x="1429.36" y="682.13" width="58.53" height="19.82" fill="#7cc500"/>
<rect x="1487.90" y="682.13" width="18.68" height="19.82" fill="#84d03a"/>
<rect x="1506.58" y="682.13" width="17.43" height="19.82" fill="#7cc500"/>
<rect x="1594.99" y="662.31" width="6.23" height="19.82" fill="#84d03a"/>
<rect x="1601.22" y="662.31" width="5.48" height="19.82" fill="#84d03a"/>
<rect x="1606.70" y="662.31" width="11.96" height="19.82" fill="#7cc500"/>
<rect x="1618.66" y="662.31" width="6.23" height="19.82" fill="#84d03a"/>
<rect x="1624.88" y="662.31" width="42.09" height="19.82" fill="#7cc500"/>
<rect x="1476.19" y="642.49" width="47.82" height="19.82" fill="#7cc500"/>
<rect x="1292.13" y="622.67" width="101.12" height="19.82" fill="#861b14"/>
<rect x="1393.25" y="622.67" width="5.73" height="19.82" fill="#ae241b"/>
<rect x="1398.98" y="622.67" width="5.98" height="19.82" fill="#dd2a1f"/>
<rect x="1404.96" y="622.67" width="5.98" height="19.82" fill="#e40d61"/>
<rect x="1410.93" y="622.67" width="5.98" height="19.82" fill="#e4278b"/>
<rect x="1416.91" y="622.67" width="12.45" height="19.82" fill="#d63d9c"/>
<rect x="1429.36" y="622.67" width="5.73" height="19.82" fill="#cb48a7"/>
<rect x="1435.09" y="622.67" width="5.98" height="19.82" fill="#af50bc"/>
<rect x="1441.07" y="622.67" width="5.73" height="19.82" fill="#7fb8e0"/>
<rect x="1446.80" y="622.67" width="11.71" height="19.82" fill="#94e0e2"/>
<rect x="1458.51" y="622.67" width="5.73" height="19.82" fill="#95e4d3"/>
<rect x="1464.23" y="622.67" width="11.96" height="19.82" fill="#8bdc7e"/>
<rect x="1476.19" y="622.67" width="5.48" height="19.82" fill="#84d03a"/>
<rect x="1481.67" y="622.67" width="42.34" height="19.82" fill="#7cc500"/>
<rect x="1518.28" y="602.85" width="5.73" height="19.82" fill="#7cc500"/>
<rect x="1518.28" y="583.03" width="5.73" height="19.82" fill="#7cc500"/>
<rect x="1518.28" y="563.21" width="5.73" height="19.82" fill="#7cc500"/>
<rect x="1518.28" y="543.39" width="5.73" height="19.82" fill="#7cc500"/>
<rect x="1518.28" y="523.57" width="52.55" height="19.82" fill="#7cc500"/>
<rect x="1476.19" y="503.75" width="47.82" height="19.82" fill="#7cc500"/>
<rect x="1535.97" y="483.93" width="10.46" height="19.82" fill="#84d03a"/>
<rect x="1546.43" y="483.93" width="19.43" height="19.82" fill="#7cc500"/>
<rect x="1583.04" y="483.93" width="42.09" height="19.82" fill="#7cc500"/>
<rect x="1631.11" y="483.93" width="35.87" height="19.82" fill="#7cc500"/>
<rect x="1524.01" y="464.11" width="142.96" height="19.82" fill="#7cc500"/>
<rect x="1292.13" y="444.29" width="89.17" height="19.82" fill="#861b14"/>
<rect x="1381.30" y="444.29" width="5.73" height="19.82" fill="#a02119"/>
<rect x="1387.02" y="444.29" width="11.21" height="19.82" fill="#de2a20"/>
<rect x="1398.23" y="444.29" width="6.23" height="19.82" fill="#e40d61"/>
<rect x="1404.46" y="444.29" width="6.23" height="19.82" fill="#e4278b"/>
<rect x="1410.68" y="444.29" width="12.45" height="19.82" fill="#cb48a7"/>
<rect x="1423.14" y="444.29" width="11.96" height="19.82" fill="#b54eb8"/>
<rect x="1435.09" y="444.29" width="5.48" height="19.82" fill="#8a84cf"/>
<rect x="1440.57" y="444.29" width="6.23" height="19.82" fill="#7fb8e0"/>
<rect x="1446.80" y="444.29" width="11.71" height="19.82" fill="#94e0e2"/>
<rect x="1458.51" y="444.29" width="5.73" height="19.82" fill="#8ce19d"/>
<rect x="1464.23" y="444.29" width="5.73" height="19.82" fill="#84d03a"/>
<rect x="1469.96" y="444.29" width="54.05" height="19.82" fill="#7cc500"/>
<rect x="1524.01" y="424.47" width="231.63" height="19.82" fill="#7cc500"/>
<rect x="1518.28" y="404.65" width="148.69" height="19.82" fill="#7cc500"/>
<rect x="1476.19" y="384.83" width="5.48" height="19.82" fill="#8a84cf"/>
<rect x="1481.67" y="384.83" width="42.34" height="19.82" fill="#7cc500"/>
<rect x="1518.28" y="365.01" width="52.55" height="19.82" fill="#7cc500"/>
<rect x="1381.30" y="345.19" width="35.62" height="19.82" fill="#861b14"/>
<rect x="1416.91" y="345.19" width="6.23" height="19.82" fill="#ae241b"/>
<rect x="1423.14" y="345.19" width="6.23" height="19.82" fill="#de2a20"/>
<rect x="1429.36" y="345.19" width="5.73" height="19.82" fill="#e40d61"/>
<rect x="1435.09" y="345.19" width="11.71" height="19.82" fill="#d63d9c"/>
<rect x="1446.80" y="345.19" width="11.71" height="19.82" fill="#bd4db2"/>
<rect x="1458.51" y="345.19" width="5.73" height="19.82" fill="#9a64c7"/>
<rect x="1464.23" y="345.19" width="5.73" height="19.82" fill="#7ec4e4"/>
<rect x="1469.96" y="345.19" width="24.16" height="19.82" fill="#96e3df"/>
<rect x="1494.12" y="345.19" width="6.23" height="19.82" fill="#8bdc7e"/>
<rect x="1500.35" y="345.19" width="6.23" height="19.82" fill="#84d03a"/>
<rect x="1506.58" y="345.19" width="17.43" height="19.82" fill="#7cc500"/>
<rect x="1518.28" y="325.37" width="5.73" height="19.82" fill="#7cc500"/>
<rect x="1518.28" y="305.55" width="5.73" height="19.82" fill="#7cc500"/>
<rect x="1476.19" y="285.73" width="47.82" height="19.82" fill="#7cc500"/>
<rect x="1381.30" y="265.91" width="142.71" height="19.82" fill="#7cc500"/>
<rect x="1518.28" y="246.09" width="148.69" height="19.82" fill="#7cc500"/>
<rect x="1518.28" y="226.27" width="52.55" height="19.82" fill="#7cc500"/>
<rect x="1292.13" y="206.45" width="5.23" height="19.82" fill="#7cc500"/>
<rect x="1297.36" y="206.45" width="5.48" height="19.82" fill="#84d03a"/>
<rect x="1302.84" y="206.45" width="221.17" height="19.82" fill="#7cc500"/>
<rect x="1518.28" y="186.63" width="237.36" height="19.82" fill="#7cc500"/>
<rect x="1518.28" y="166.81" width="52.55" height="19.82" fill="#7cc500"/>
<rect x="1476.19" y="146.99" width="47.82" height="19.82" fill="#7cc500"/>
<rect x="1518.28" y="127.17" width="148.69" height="19.82" fill="#7cc500"/>
<rect x="1292.13" y="107.35" width="10.71" height="19.82" fill="#861b14"/>
<rect x="1302.84" y="107.35" width="6.97" height="19.82" fill="#da2a1e"/>
<rect x="1309.81" y="107.35" width="5.48" height="19.82" fill="#de2a20"/>
<rect x="1315.29" y="107.35" width="6.48" height="19.82" fill="#e40d61"/>
<rect x="1321.77" y="107.35" width="5.48" height="19.82" fill="#e4278b"/>
<rect x="1327.25" y="107.35" width="6.48" height="19.82" fill="#d63d9c"/>
<rect x="1333.72" y="107.35" width="5.98" height="19.82" fill="#cb48a7"/>
<rect x="1339.70" y="107.35" width="5.98" height="19.82" fill="#9a64c7"/>
<rect x="1345.68" y="107.35" width="5.48" height="19.82" fill="#7ec4e4"/>
<rect x="1351.16" y="107.35" width="5.98" height="19.82" fill="#94e0e2"/>
<rect x="1357.14" y="107.35" width="5.98" height="19.82" fill="#8fe2b1"/>
<rect x="1363.11" y="107.35" width="5.98" height="19.82" fill="#84d03a"/>
<rect x="1369.09" y="107.35" width="154.92" height="19.82" fill="#7cc500"/>
<rect x="1518.28" y="87.53" width="237.36" height="19.82" fill="#7cc500"/>
<rect x="1381.30" y="67.71" width="5.73" height="19.82" fill="#b54eb8"/>
<rect x="1387.02" y="67.71" width="5.73" height="19.82" fill="#8bdc7e"/>
<rect x="1392.75" y="67.71" width="131.26" height="19.82" fill="#7cc500"/>
<rect x="1286.15" y="47.89" width="16.69" height="19.82" fill="#861b14"/>
<rect x="1302.84" y="47.89" width="6.97" height="19.82" fill="#da2a1e"/>
<rect x="1309.81" y="47.89" width="5.48" height="19.82" fill="#e40d61"/>
<rect x="1315.29" y="47.89" width="6.48" height="19.82" fill="#d63d9c"/>
<rect x="1321.77" y="47.89" width="5.48" height="19.82" fill="#b54eb8"/>
<rect x="1327.25" y="47.89" width="6.48" height="19.82" fill="#7ec4e4"/>
<rect x="1333.72" y="47.89" width="5.98" height="19.82" fill="#94e0e2"/>
<rect x="1339.70" y="47.89" width="5.98" height="19.82" fill="#8ce19d"/>
<rect x="1345.68" y="47.89" width="5.48" height="19.82" fill="#84d03a"/>
<rect x="1351.16" y="47.89" width="172.85" height="19.82" fill="#7cc500"/>
<rect x="1286.15" y="28.07" width="5.98" height="19.82" fill="#e40d61"/>
<rect x="1292.13" y="28.07" width="11.46" height="19.82" fill="#d63d9c"/>
<rect x="1303.59" y="28.07" width="6.23" height="19.82" fill="#b54eb8"/>
<rect x="1309.81" y="28.07" width="5.48" height="19.82" fill="#94e0e2"/>
<rect x="1315.29" y="28.07" width="6.48" height="19.82" fill="#8bdc7e"/>
<rect x="1321.77" y="28.07" width="202.24" height="19.82" fill="#7cc500"/>
<rect x="1518.28" y="18.20" width="5.73" height="9.87" fill="#7cc500"/>
</g>
<g shape-rendering="crispEdges">
<rect x="1872.60" y="1423.09" width="83.10" height="22.81" fill="#029b37"/>
<rect x="1872.60" y="1400.79" width="83.10" height="22.81" fill="#0ba52e"/>
<rect x="1872.60" y="1378.48" width="83.10" height="22.81" fill="#1daf26"/>
<rect x="1872.60" y="1356.18" width="83.10" height="22.81" fill="#33b520"/>
<rect x="1872.60" y="1333.87" width="83.10" height="22.81" fill="#45b917"/>
<rect x="1872.60" y="1311.56" width="83.10" height="22.81" fill="#58bd0e"/>
<rect x="1872.60" y="1289.26" width="83.10" height="22.81" fill="#6bc007"/>
<rect x="1872.60" y="1266.95" width="83.10" height="22.81" fill="#7cc500"/>
<rect x="1872.60" y="1244.64" width="83.10" height="22.81" fill="#7cc500"/>
<rect x="1872.60" y="1222.34" width="83.10" height="22.81" fill="#7cc500"/>
<rect x="1872.60" y="1200.03" width="83.10" height="22.81" fill="#7cc500"/>
<rect x="1872.60" y="1177.73" width="83.10" height="22.81" fill="#7cc500"/>
<rect x="1872.60" y="1155.42" width="83.10" height="22.81" fill="#7cc500"/>
<rect x="1872.60" y="1133.11" width="83.10" height="22.81" fill="#7dc708"/>
<rect x="1872.60" y="1110.81" width="83.10" height="22.81" fill="#84d03a"/>
<rect x="1872.60" y="1088.50" width="83.10" height="22.81" fill="#89d760"/>
<rect x="1872.60" y="1066.19" width="83.10" height="22.81" fill="#8bdc7e"/>
<rect x="1872.60" y="1043.89" width="83.10" height="22.81" fill="#8ce19d"/>
<rect x="1872.60" y="1021.58" width="83.10" height="22.81" fill="#8fe2b1"/>
<rect x="1872.60" y="999.28" width="83.10" height="22.81" fill="#93e4c4"/>
<rect x="1872.60" y="976.97" width="83.10" height="22.81" fill="#95e4d3"/>
<rect x="1872.60" y="954.66" width="83.10" height="22.81" fill="#96e3df"/>
<rect x="1872.60" y="932.36" width="83.10" height="22.81" fill="#94e0e2"/>
<rect x="1872.60" y="910.05" width="83.10" height="22.81" fill="#92dce6"/>
<rect x="1872.60" y="887.74" width="83.10" height="22.81" fill="#8dd6e7"/>
<rect x="1872.60" y="865.44" width="83.10" height="22.81" fill="#86cde6"/>
<rect x="1872.60" y="843.13" width="83.10" height="22.81" fill="#7ec4e4"/>
<rect x="1872.60" y="820.83" width="83.10" height="22.81" fill="#7fb8e0"/>
<rect x="1872.60" y="798.52" width="83.10" height="22.81" fill="#80abdb"/>
<rect x="1872.60" y="776.21" width="83.10" height="22.81" fill="#839ed6"/>
<rect x="1872.60" y="753.91" width="83.10" height="22.81" fill="#8691d3"/>
<rect x="1872.60" y="731.60" width="83.10" height="22.81" fill="#8a84cf"/>
<rect x="1872.60" y="709.29" width="83.10" height="22.81" fill="#9174cb"/>
<rect x="1872.60" y="686.99" width="83.10" height="22.81" fill="#9a64c7"/>
<rect x="1872.60" y="664.68" width="83.10" height="22.81" fill="#a357c4"/>
<rect x="1872.60" y="642.38" width="83.10" height="22.81" fill="#aa53c0"/>
<rect x="1872.60" y="620.07" width="83.10" height="22.81" fill="#af50bc"/>
<rect x="1872.60" y="597.76" width="83.10" height="22.81" fill="#b54eb8"/>
<rect x="1872.60" y="575.46" width="83.10" height="22.81" fill="#bd4db2"/>
<rect x="1872.60" y="553.15" width="83.10" height="22.81" fill="#c44cad"/>
<rect x="1872.60" y="530.84" width="83.10" height="22.81" fill="#cb48a7"/>
<rect x="1872.60" y="508.54" width="83.10" height="22.81" fill="#d043a2"/>
<rect x="1872.60" y="486.23" width="83.10" height="22.81" fill="#d63d9c"/>
<rect x="1872.60" y="463.92" width="83.10" height="22.81" fill="#db3696"/>
<rect x="1872.60" y="441.62" width="83.10" height="22.81" fill="#e02e91"/>
<rect x="1872.60" y="419.31" width="83.10" height="22.81" fill="#e4278b"/>
<rect x="1872.60" y="397.01" width="83.10" height="22.81" fill="#e51f83"/>
<rect x="1872.60" y="374.70" width="83.10" height="22.81" fill="#e6187c"/>
<rect x="1872.60" y="352.39" width="83.10" height="22.81" fill="#e51170"/>
<rect x="1872.60" y="330.09" width="83.10" height="22.81" fill="#e40d61"/>
<rect x="1872.60" y="307.78" width="83.10" height="22.81" fill="#e2174b"/>
<rect x="1872.60" y="285.47" width="83.10" height="22.81" fill="#e02335"/>
<rect x="1872.60" y="263.17" width="83.10" height="22.81" fill="#df2828"/>
<rect x="1872.60" y="240.86" width="83.10" height="22.81" fill="#de2a20"/>
<rect x="1872.60" y="218.56" width="83.10" height="22.81" fill="#dd2a1f"/>
<rect x="1872.60" y="196.25" width="83.10" height="22.81" fill="#dc2a1f"/>
<rect x="1872.60" y="173.94" width="83.10" height="22.81" fill="#db2a1e"/>
<rect x="1872.60" y="151.64" width="83.10" height="22.81" fill="#da2a1e"/>
<rect x="1872.60" y="129.33" width="83.10" height="22.81" fill="#cd281c"/>
<rect x="1872.60" y="107.02" width="83.10" height="22.81" fill="#bb261c"/>
<rect x="1872.60" y="84.72" width="83.10" height="22.81" fill="#ae241b"/>
<rect x="1872.60" y="62.41" width="83.10" height="22.81" fill="#a02119"/>
<rect x="1872.60" y="40.11" width="83.10" height="22.81" fill="#931e16"/>
<rect x="1872.60" y="17.80" width="83.10" height="22.81" fill="#861b14"/>
</g>
<rect x="1872.6" y="17.8" width="83.1" height="1427.6" fill="none" stroke="#3a3a3a" stroke-width="1.9"/>
<text x="1972.3" y="32.2" class="ck">2</text>
<line x1="1940.7" y1="255.7" x2="1955.7" y2="255.7" stroke="#3a3a3a" stroke-width="1.5"/>
<text x="1972.8" y="270.1" class="ck">1.8</text>
<line x1="1940.7" y1="493.7" x2="1955.7" y2="493.7" stroke="#3a3a3a" stroke-width="1.5"/>
<text x="1972.8" y="508.1" class="ck">1.6</text>
<line x1="1940.7" y1="731.6" x2="1955.7" y2="731.6" stroke="#3a3a3a" stroke-width="1.5"/>
<text x="1972.8" y="746.0" class="ck">1.4</text>
<line x1="1940.7" y1="969.5" x2="1955.7" y2="969.5" stroke="#3a3a3a" stroke-width="1.5"/>
<text x="1972.8" y="983.9" class="ck">1.2</text>
<line x1="1940.7" y1="1207.5" x2="1955.7" y2="1207.5" stroke="#3a3a3a" stroke-width="1.5"/>
<text x="1972.8" y="1221.9" class="ck">1</text>
<text x="1972.3" y="1459.8" class="ck">0.8</text>
<line x1="127.6" y1="345.2" x2="1178.0" y2="345.2" stroke="#151515" stroke-width="2" stroke-dasharray="41.6 25"/>
<line x1="1223.5" y1="345.2" x2="1819.0" y2="345.2" stroke="#151515" stroke-width="2" stroke-dasharray="41.6 25"/>
<line x1="127.6" y1="622.7" x2="1178.0" y2="622.7" stroke="#151515" stroke-width="2" stroke-dasharray="41.6 25"/>
<line x1="1223.5" y1="622.7" x2="1819.0" y2="622.7" stroke="#151515" stroke-width="2" stroke-dasharray="41.6 25"/>
<line x1="127.6" y1="959.6" x2="1178.0" y2="959.6" stroke="#151515" stroke-width="2" stroke-dasharray="41.6 25"/>
<line x1="1223.5" y1="959.6" x2="1819.0" y2="959.6" stroke="#151515" stroke-width="2" stroke-dasharray="41.6 25"/>
<line x1="127.6" y1="1138.0" x2="1178.0" y2="1138.0" stroke="#151515" stroke-width="2" stroke-dasharray="41.6 25"/>
<line x1="1223.5" y1="1138.0" x2="1819.0" y2="1138.0" stroke="#151515" stroke-width="2" stroke-dasharray="41.6 25"/>
<path d="M127.2 17.2 V1445.3 H1177.8" fill="none" stroke="#3a3a3a" stroke-width="2"/>
<path d="M1222.7 17.2 V1445.3 H1818.6" fill="none" stroke="#3a3a3a" stroke-width="2"/>
<line x1="233.0" y1="1445.3" x2="233.0" y2="1429.8" stroke="#3a3a3a" stroke-width="1.5"/>
<text x="232.0" y="1504" class="tk" text-anchor="middle">20</text>
<line x1="385.4" y1="1445.3" x2="385.4" y2="1429.8" stroke="#3a3a3a" stroke-width="1.5"/>
<text x="384.4" y="1504" class="tk" text-anchor="middle">40</text>
<line x1="537.8" y1="1445.3" x2="537.8" y2="1429.8" stroke="#3a3a3a" stroke-width="1.5"/>
<text x="536.8" y="1504" class="tk" text-anchor="middle">60</text>
<line x1="690.2" y1="1445.3" x2="690.2" y2="1429.8" stroke="#3a3a3a" stroke-width="1.5"/>
<text x="689.2" y="1504" class="tk" text-anchor="middle">80</text>
<line x1="842.7" y1="1445.3" x2="842.7" y2="1429.8" stroke="#3a3a3a" stroke-width="1.5"/>
<text x="841.7" y="1504" class="tk" text-anchor="middle">100</text>
<line x1="995.1" y1="1445.3" x2="995.1" y2="1429.8" stroke="#3a3a3a" stroke-width="1.5"/>
<text x="994.1" y="1504" class="tk" text-anchor="middle">120</text>
<line x1="1147.5" y1="1445.3" x2="1147.5" y2="1429.8" stroke="#3a3a3a" stroke-width="1.5"/>
<text x="1146.5" y="1504" class="tk" text-anchor="middle">140</text>
<text x="1221.7" y="1504" class="tk" text-anchor="middle">0</text>
<line x1="1520.7" y1="1445.3" x2="1520.7" y2="1434.3" stroke="#3a3a3a" stroke-width="1.5"/>
<text x="1519.7" y="1504" class="tk" text-anchor="middle">1</text>
<line x1="1818.6" y1="1445.3" x2="1818.6" y2="1429.8" stroke="#3a3a3a" stroke-width="1.5"/>
<text x="1817.6" y="1504" class="tk" text-anchor="middle">2</text>
<text x="107.6" y="1460.2" class="tk" text-anchor="end">0</text>
<text x="107.6" y="1262.0" class="tk" text-anchor="end">10</text>
<text x="107.6" y="1063.8" class="tk" text-anchor="end">20</text>
<text x="107.6" y="865.6" class="tk" text-anchor="end">30</text>
<text x="107.6" y="667.4" class="tk" text-anchor="end">40</text>
<text x="107.6" y="469.2" class="tk" text-anchor="end">50</text>
<text x="107.6" y="271.0" class="tk" text-anchor="end">60</text>
<text x="107.6" y="72.8" class="tk" text-anchor="end">70</text>
<line x1="127.2" y1="1444.5" x2="142.2" y2="1444.5" stroke="#3a3a3a" stroke-width="1.5"/>
<text x="872" y="200.8" class="rat" textLength="147">Rat 692</text>
<text x="872" y="509.3" class="rat" textLength="147">Rat 638</text>
<text x="872" y="815.6" class="rat" textLength="147">Rat 637</text>
<text x="872" y="1073.8" class="rat" textLength="147">Rat 576</text>
<text x="872" y="1310.8" class="rat" textLength="147">Rat 515</text>
<text x="404.2" y="1563.8" class="al" textLength="494.5">Laps in laboratory frame</text>
<text x="1389.8" y="1564.2" class="al" textLength="255">Exp. gain, <tspan font-style="italic">G</tspan></text>
<text transform="translate(38.6 829) rotate(-90)" class="al" textLength="201">Session #</text>
<text transform="translate(2076.3 740) rotate(-90)" class="cl" text-anchor="middle">Hippocampal gain, <tspan font-style="italic">H</tspan>/ Experiment gain, <tspan font-style="italic">G</tspan></text>
</svg>
</body></html>
